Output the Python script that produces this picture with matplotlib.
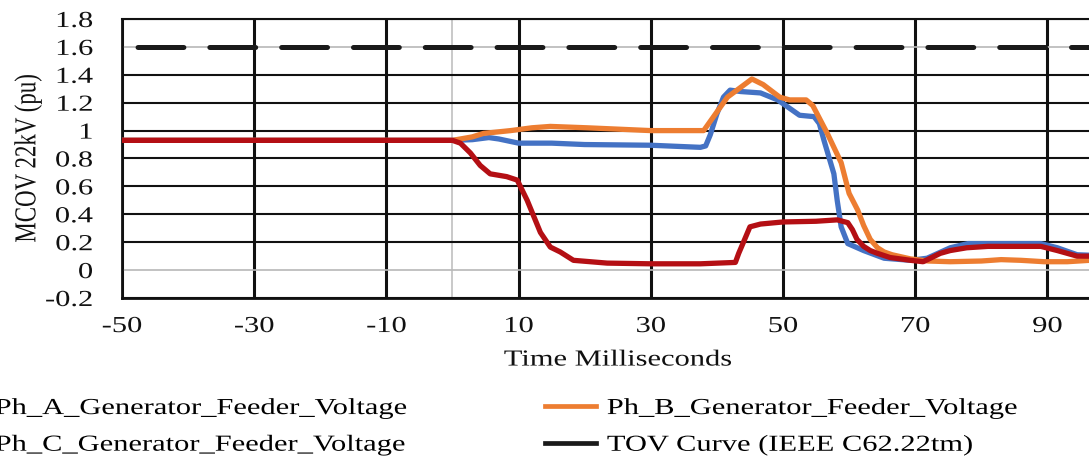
import matplotlib
matplotlib.use("Agg")
import matplotlib.pyplot as plt
from matplotlib.patheffects import AbstractPathEffect
from matplotlib.transforms import Affine2D
from matplotlib.lines import Line2D

# ---------------- data ----------------
t_a = [-50, 0, 3, 5.5, 7, 10, 15, 20, 30, 37.5, 38.3, 39, 40, 41, 42, 43.6, 46.6, 49.2, 51, 52.5,
       54.7, 55.5, 56.2, 57.7, 58.2, 58.8, 59.8, 62.2, 65.3, 69.3, 71.8, 75.3, 78, 83, 89, 91.5, 94.5, 100]
ph_a = [0.93, 0.93, 0.935, 0.95, 0.94, 0.91, 0.91, 0.90, 0.895, 0.88, 0.89, 0.97, 1.12, 1.24, 1.29, 1.28,
        1.27, 1.22, 1.16, 1.11, 1.10, 1.05, 0.93, 0.69, 0.50, 0.31, 0.19, 0.14, 0.085, 0.07, 0.085, 0.16,
        0.19, 0.19, 0.19, 0.16, 0.11, 0.10]

t_b = [-50, 0, 3, 4.7, 8.8, 12, 14.8, 20.4, 30, 38, 39.5, 41.6, 43.6, 45.3, 47, 49.5, 51, 53.5, 54.5,
       56.7, 58.8, 60, 61.3, 62.2, 63.2, 64.3, 65.3, 66.5, 69.3, 72, 75.3, 80, 83, 86, 89.5, 93, 96.4, 100]
ph_b = [0.93, 0.93, 0.955, 0.98, 1.00, 1.02, 1.03, 1.02, 1.00, 1.00, 1.10, 1.24, 1.31, 1.37, 1.33, 1.24,
        1.22, 1.22, 1.18, 0.98, 0.77, 0.55, 0.43, 0.32, 0.22, 0.16, 0.13, 0.11, 0.08, 0.065, 0.06, 0.065,
        0.075, 0.07, 0.06, 0.06, 0.07, 0.07]

t_c = [-50, 0, 1.2, 2.7, 4.2, 5.7, 8.2, 9.8, 11.3, 13.3, 14.8, 16.3, 18.3, 23.4, 30, 37.5, 42.8, 43.3,
       44.2, 45, 46.6, 50, 55, 58.2, 59.8, 60.5, 61.2, 62.2, 63.2, 64.3, 66.2, 69.3, 71.2, 73.8, 75.3,
       77.8, 81, 85.5, 89, 91.5, 94.5, 97, 100]
ph_c = [0.93, 0.93, 0.91, 0.84, 0.75, 0.69, 0.67, 0.645, 0.50, 0.27, 0.165, 0.13, 0.07, 0.05, 0.045,
        0.045, 0.055, 0.12, 0.22, 0.31, 0.33, 0.345, 0.35, 0.36, 0.34, 0.29, 0.22, 0.17, 0.14, 0.12, 0.09,
        0.07, 0.06, 0.12, 0.14, 0.16, 0.17, 0.17, 0.17, 0.14, 0.10, 0.10, 0.10]

t_tov = [-50, 100]
tov = [1.6, 1.6]

x_ticks = [-50, -30, -10, 10, 30, 50, 70, 90]
x_tick_labels = ["-50", "-30", "-10", "10", "30", "50", "70", "90"]
y_ticks = [-0.2, 0, 0.2, 0.4, 0.6, 0.8, 1.0, 1.2, 1.4, 1.6, 1.8]
y_tick_labels = ["-0.2", "0", "0.2", "0.4", "0.6", "0.8", "1", "1.2", "1.4", "1.6", "1.8"]

labels = ["Ph_A_Generator_Feeder_Voltage", "Ph_B_Generator_Feeder_Voltage",
          "Ph_C_Generator_Feeder_Voltage", "TOV Curve (IEEE C62.22tm)"]
colors = ["#4472C4", "#ED7D31", "#B40F14", "#1a1a1a"]


# horizontal stretch for text (the reference text is horizontally widened)
class HStretch(AbstractPathEffect):
    def __init__(self, sx, anchor="left"):
        super().__init__((0, 0))
        self._sx = sx
        self._anchor = anchor

    def draw_path(self, renderer, gc, tpath, affine, rgbFace=None):
        ext = tpath.get_extents(affine)
        if self._anchor == "left":
            c = ext.x0
        elif self._anchor == "right":
            c = ext.x1
        else:
            c = 0.5 * (ext.x0 + ext.x1)
        new = affine + Affine2D().translate(-c, 0).scale(self._sx, 1).translate(c, 0)
        renderer.draw_path(gc, tpath, new, rgbFace)


SX = 1.33
FS = 16.5
plt.rcParams["font.family"] = ["Liberation Serif", "DejaVu Serif"]
plt.rcParams["lines.scale_dashes"] = False

fig = plt.figure(figsize=(10.89, 4.59), dpi=100)
ax = fig.add_axes([0.112, 0.3508, 0.9105, 0.6078])
ax.set_xlim(-50, 100)
ax.set_ylim(-0.2, 1.8)

ax.set_xticks(x_ticks, x_tick_labels)
ax.set_yticks(y_ticks, y_tick_labels)
ax.tick_params(axis="both", length=0, labelsize=FS, colors="#111111")
ax.tick_params(axis="x", pad=13)
ax.tick_params(axis="y", pad=21)

ax.grid(axis="x", color="#111111", lw=2.2, zorder=0)
ax.grid(axis="y", color="#111111", lw=1.5, zorder=0)
ax.set_axisbelow(True)
for i, v in enumerate(y_ticks):
    if abs(v) < 1e-9 or abs(v - 1.6) < 1e-9:
        ax.get_ygridlines()[i].set_color("#b8b8b8")
        ax.get_ygridlines()[i].set_linewidth(1.2)
ax.axvline(0, color="#c0c0c0", lw=1.2, zorder=0.5)

for s in ["left", "bottom"]:
    ax.spines[s].set_linewidth(2.0)
    ax.spines[s].set_color("#111111")
ax.spines["top"].set_linewidth(1.5)
ax.spines["top"].set_color("#111111")
ax.spines["right"].set_visible(False)

la, = ax.plot(t_a, ph_a, color=colors[0], lw=3.8, solid_joinstyle="round", solid_capstyle="round", zorder=3)
lb, = ax.plot(t_b, ph_b, color=colors[1], lw=3.8, solid_joinstyle="round", solid_capstyle="round", zorder=4)
lc, = ax.plot(t_c, ph_c, color=colors[2], lw=3.8, solid_joinstyle="round", solid_capstyle="round", zorder=5)
ld, = ax.plot(t_tov, tov, color=colors[3], lw=3.6, dash_capstyle="round",
              linestyle=(40.5, (33.0, 18.7)), zorder=6)

ax.set_xlabel("Time Milliseconds", fontsize=FS, labelpad=9, color="#111111")
ax.set_ylabel("MCOV 22kV (pu)", fontsize=FS, color="#111111", va="center")
ax.yaxis.set_label_coords(-0.0948, 0.5)

h_a = Line2D([], [], color=colors[0], lw=3.4)
h_b = Line2D([], [], color=colors[1], lw=3.4)
h_c = Line2D([], [], color=colors[2], lw=3.4)
h_d = Line2D([], [], color=colors[3], lw=3.4)
leg = fig.legend([h_a, h_c, h_b, h_d], [labels[0], labels[2], labels[1], labels[3]],
                 ncol=2, loc="upper left", bbox_to_anchor=(-67 / 1089, 1 - 398 / 459),
                 frameon=False, fontsize=FS, handlelength=2.2, handletextpad=0.5,
                 columnspacing=10.5, labelspacing=0.68, borderpad=0, borderaxespad=0)

fig.canvas.draw()
for lbl in ax.get_xticklabels():
    lbl.set_path_effects([HStretch(SX, "center")])
for lbl in ax.get_yticklabels():
    lbl.set_path_effects([HStretch(SX, "right")])
ax.xaxis.label.set_path_effects([HStretch(SX, "center")])
ax.yaxis.label.set_path_effects([HStretch(SX, "center")])
for txt in leg.get_texts():
    txt.set_path_effects([HStretch(SX, "left")])

fig.savefig("out.png", dpi=100)
